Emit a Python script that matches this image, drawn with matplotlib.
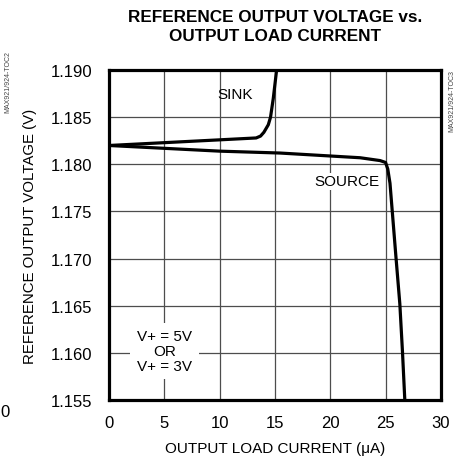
import matplotlib
matplotlib.use("Agg")
import matplotlib.pyplot as plt

plt.rcParams['font.family'] = ['Liberation Sans Narrow', 'Liberation Sans', 'DejaVu Sans']

# SINK curve
sink_i = [0, 5, 10, 13.3, 13.7, 14.0, 14.4, 14.6, 14.85, 15.15]
sink_v = [1.1820, 1.1823, 1.1826, 1.1828, 1.1830, 1.1834, 1.1842, 1.1850, 1.1870, 1.1900]

# SOURCE curve
source_i = [0, 5, 10, 15.45, 22.7, 24.5, 25.0, 25.2, 25.4, 25.6, 25.93, 26.29, 26.53, 26.74]
source_v = [1.1820, 1.1817, 1.1814, 1.1812, 1.1807, 1.1804, 1.1802, 1.1795, 1.1780, 1.1751,
            1.1703, 1.1652, 1.1601, 1.1550]

xticks = [0, 5, 10, 15, 20, 25, 30]
yticks = [1.155, 1.160, 1.165, 1.170, 1.175, 1.180, 1.185, 1.190]

fig = plt.figure(figsize=(4.59, 4.64), dpi=100)
ax = fig.add_axes([0.2375, 0.1358, 0.723, 0.711])

ax.plot(sink_i, sink_v, color='black', lw=2.3, solid_capstyle='butt',
        solid_joinstyle='round', zorder=3)
ax.plot(source_i, source_v, color='black', lw=2.3, solid_capstyle='butt',
        solid_joinstyle='round', zorder=3)

ax.set_xlim(0, 30)
ax.set_ylim(1.155, 1.190)
ax.set_xticks(xticks)
ax.set_yticks(yticks)
ax.set_yticklabels([f"{v:.3f}" for v in yticks])
ax.tick_params(length=0, labelsize=12)
ax.tick_params(axis='y', pad=12)
ax.tick_params(axis='x', pad=11)
ax.grid(True, color='#4d4d4d', lw=0.9)
for s in ax.spines.values():
    s.set_linewidth(2.3)

ax.set_xlabel('OUTPUT LOAD CURRENT (\u03bcA)', fontsize=11, labelpad=8)
ax.set_ylabel('REFERENCE OUTPUT VOLTAGE (V)', fontsize=10.8, labelpad=10)

ax.text(11.4, 1.1875, 'SINK', fontsize=11, ha='center', va='center', zorder=4)
ax.text(21.5, 1.1782, 'SOURCE', fontsize=11, ha='center', va='center', zorder=4,
        bbox=dict(facecolor='white', edgecolor='none', pad=1))
ax.text(5.0, 1.1602, 'V+ = 5V\nOR\nV+ = 3V', fontsize=11, ha='center', va='center',
        linespacing=1.05, zorder=4,
        bbox=dict(facecolor='white', edgecolor='none', pad=5))

fig.text(0.6, 0.978, 'REFERENCE OUTPUT VOLTAGE vs.\nOUTPUT LOAD CURRENT', fontsize=12.3,
         fontweight='bold', ha='center', va='top', linespacing=1.35)

fig.text(0.018, 0.89, 'MAX921/924-TOC2', fontsize=5, color='#444444', rotation=90,
         ha='center', va='top')
fig.text(0.985, 0.849, 'MAX921/924-TOC3', fontsize=5, color='#444444', rotation=90,
         ha='center', va='top')
fig.text(0.0, 0.112, '0', fontsize=12, ha='left', va='center')

fig.savefig('out.png', dpi=100)
